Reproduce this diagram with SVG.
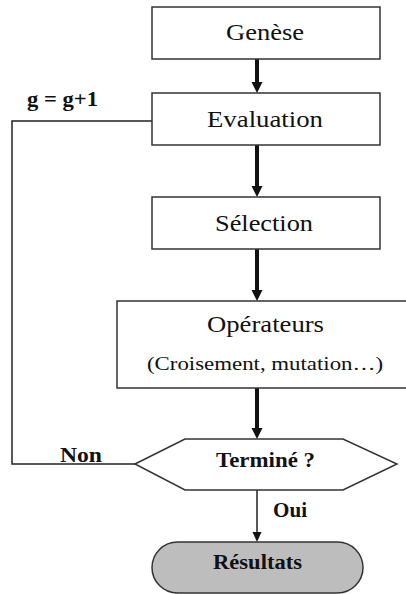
<svg xmlns="http://www.w3.org/2000/svg" width="406" height="594" viewBox="0 0 406 594">
<style>
.box{fill:#fff;stroke:#333;stroke-width:1.5}
.lbl{font-family:"Liberation Serif","Times New Roman",serif;font-size:24px;fill:#111}
.b{font-family:"Liberation Serif","Times New Roman",serif;font-size:20px;font-weight:bold;fill:#111}
.small{font-family:"Liberation Serif","Times New Roman",serif;font-size:19px;fill:#111}
.thick{stroke:#111;stroke-width:4;fill:none}
.thin{stroke:#222;stroke-width:1.5;fill:none}
</style>
<defs>
<marker id="ah" markerUnits="userSpaceOnUse" markerWidth="12" markerHeight="12" refX="0" refY="6" orient="auto" viewBox="0 0 12 12">
<path d="M0,0.5 L11,6 L0,11.5 z" fill="#111"/>
</marker>
<marker id="ahs" markerUnits="userSpaceOnUse" markerWidth="10" markerHeight="10" refX="0" refY="5" orient="auto" viewBox="0 0 10 10">
<path d="M0,0.5 L10,5 L0,9.5 z" fill="#111"/>
</marker>
</defs>
<g id="connectors">
<line class="thick" x1="257" y1="59" x2="257" y2="82" marker-end="url(#ah)"/>
<line class="thick" x1="257" y1="145" x2="257" y2="186" marker-end="url(#ah)"/>
<line class="thick" x1="257" y1="249" x2="257" y2="290" marker-end="url(#ah)"/>
<line class="thick" x1="257" y1="388" x2="257" y2="428" marker-end="url(#ah)"/>
<line class="thin" x1="257" y1="490" x2="257" y2="532" marker-end="url(#ahs)"/>
<polyline class="thin" points="135,464 12,464 12,121 152,121"/>
<text class="b" x="27" y="106" textLength="71" lengthAdjust="spacingAndGlyphs">g = g+1</text>
<text class="b" x="60" y="462" textLength="42" lengthAdjust="spacingAndGlyphs">Non</text>
<text class="b" x="273" y="517" textLength="34" lengthAdjust="spacingAndGlyphs">Oui</text>
</g>
<g id="genese">
<rect class="box" x="152" y="7" width="228" height="52"/>
<text class="lbl" x="226" y="40" textLength="78" lengthAdjust="spacingAndGlyphs">Genèse</text>
</g>
<g id="evaluation">
<rect class="box" x="152" y="93" width="228" height="52"/>
<text class="lbl" x="207" y="127" textLength="116" lengthAdjust="spacingAndGlyphs">Evaluation</text>
</g>
<g id="selection">
<rect class="box" x="152" y="197" width="228" height="52"/>
<text class="lbl" x="215" y="231" textLength="98" lengthAdjust="spacingAndGlyphs">Sélection</text>
</g>
<g id="operateurs">
<rect class="box" x="117" y="301" width="295" height="87"/>
<text class="lbl" x="207" y="332" textLength="117" lengthAdjust="spacingAndGlyphs">Opérateurs</text>
<text class="small" x="147" y="370" textLength="236" lengthAdjust="spacingAndGlyphs">(Croisement, mutation…)</text>
</g>
<g id="termine">
<polygon class="box" points="135,464 185,439 343,439 397,464 343,490 185,490"/>
<text class="b" x="216" y="467" textLength="99" lengthAdjust="spacingAndGlyphs">Terminé ?</text>
</g>
<g id="resultats">
<rect x="152" y="542" width="211" height="51" rx="25.5" ry="25.5" fill="#bdbdbd" stroke="#333" stroke-width="1.5"/>
<text class="b" x="213" y="569" textLength="89" lengthAdjust="spacingAndGlyphs">Résultats</text>
</g>
</svg>
